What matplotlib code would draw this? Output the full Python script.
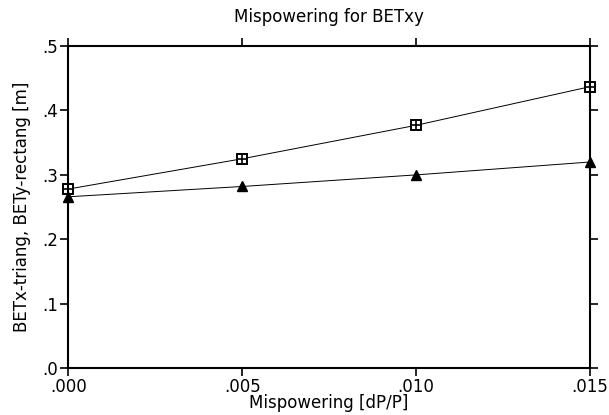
import matplotlib
matplotlib.use("Agg")
from matplotlib import pyplot

# values
dp = [0.000, 0.005, 0.010, 0.015]
bet_rect = [0.278, 0.325, 0.377, 0.437]
bet_triang = [0.266, 0.282, 0.300, 0.320]
xticks = [0.000, 0.005, 0.010, 0.015]
xtick_labels = ['.000', '.005', '.010', '.015']
yticks = [0.0, 0.1, 0.2, 0.3, 0.4, 0.5]
ytick_labels = ['.0', '.1', '.2', '.3', '.4', '.5']

pyplot.rcParams['font.family'] = 'DejaVu Sans'

fig = pyplot.figure(figsize=(6.09, 4.15), dpi=100)
ax = fig.add_axes([0.112, 0.113, 0.857, 0.776])

ax.plot(dp, bet_rect, '-', color='black', lw=0.7)
ax.plot(dp, bet_rect, 's', color='black', ms=6.5, mfc='white', mew=1.4, clip_on=False)
ax.plot(dp, bet_rect, '+', color='black', ms=5.5, mew=1.2, clip_on=False)
ax.plot(dp, bet_triang, '-', color='black', lw=0.7)
ax.plot(dp, bet_triang, '^', color='black', ms=6.5, clip_on=False)

ax.set_xlim(0, 0.015)
ax.set_ylim(0, 0.5)
ax.set_xticks(xticks)
ax.set_xticklabels(xtick_labels)
ax.set_yticks(yticks)
ax.set_yticklabels(ytick_labels)
ax.tick_params(direction='out', length=6, width=1.2, labelsize=12, pad=1,
               top=True, right=True)

for s in ax.spines.values():
    s.set_linewidth(1.5)

ax.set_title('Mispowering for BETxy', fontsize=12, pad=17)
ax.set_xlabel('Mispowering [dP/P]', fontsize=12, labelpad=-1)
ax.set_ylabel('BETx-triang, BETy-rectang [m]', fontsize=12, labelpad=8)

fig.savefig('out.png')
